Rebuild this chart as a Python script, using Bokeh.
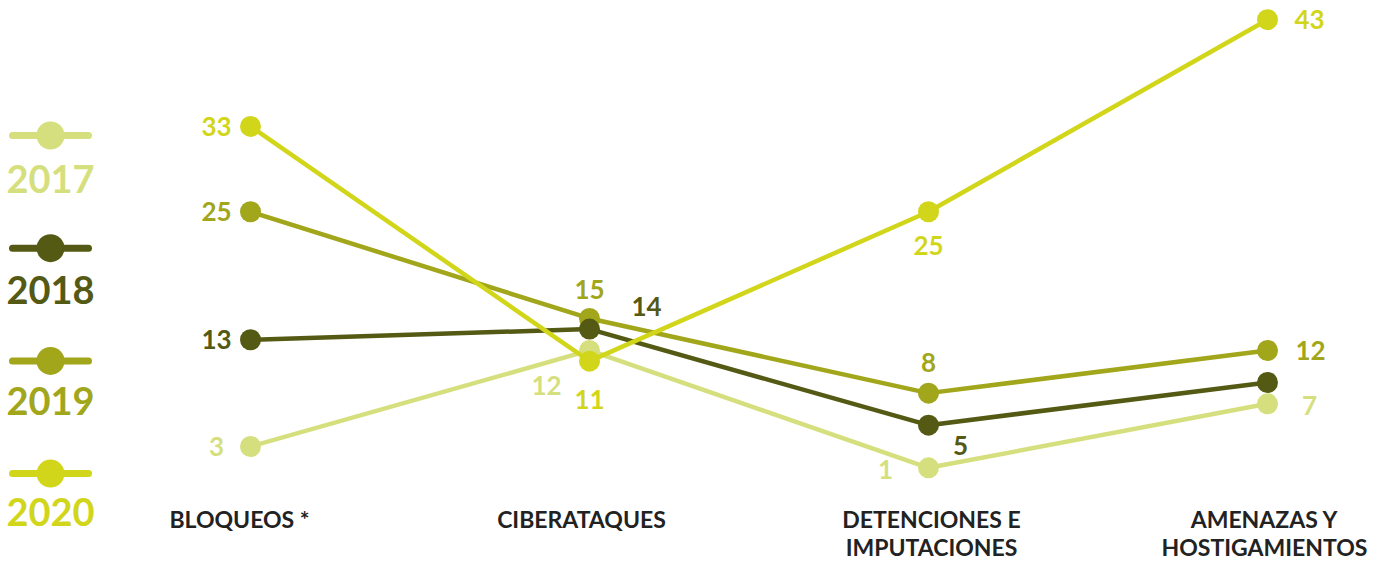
from bokeh.plotting import figure
from bokeh.models import Range1d, ColumnDataSource
from bokeh.core.properties import value
from bokeh.embed import file_html
from bokeh.resources import INLINE

# ---------------- data ----------------
categories = ["BLOQUEOS *", "CIBERATAQUES", "DETENCIONES E\nIMPUTACIONES", "AMENAZAS Y\nHOSTIGAMIENTOS"]
years = ["2017", "2018", "2019", "2020"]
v2017 = [3, 12, 1, 7]
v2018 = [13, 14, 5, 9]
v2019 = [25, 15, 8, 12]
v2020 = [33, 11, 25, 43]
show2018 = [True, True, True, False]

# ---------------- styles ----------------
colors = {"2017": "#d6df7e", "2018": "#545914", "2019": "#a1a61a", "2020": "#d2d61b"}
FONT = value("Lato")
W, H = 1386, 563

# label offsets (screen px) per series/category
offsets = {
    "2017": [(-34, 0), (-43, 35), (-43, 2), (42, 2)],
    "2018": [(-34, 0), (57, -23), (32, 20), (0, 0)],
    "2019": [(-34, 0), (0, -29), (0, -31), (43, 0)],
    "2020": [(-34, 0), (0, 38), (0, 34), (42, 0)],
}
cat_dx = [-11, -8, 3, -3]

# pixel mapping helpers
X0_PX, DX_PX = 250, 339
Y0_PX, DY_PX = 478, 10.67
x_start = -X0_PX / DX_PX
x_end = x_start + W / DX_PX
y_end = Y0_PX / DY_PX
y_start = y_end - H / DY_PX


def px_x(px):
    return x_start + px / DX_PX


def px_y(py):
    return y_end - py / DY_PX


p = figure(width=W, height=H, output_backend="svg", toolbar_location=None,
           x_axis_type=None, y_axis_type=None, min_border=0,
           x_range=Range1d(x_start, x_end), y_range=Range1d(y_start, y_end))
p.outline_line_color = None
p.grid.visible = False
p.background_fill_color = "white"
p.border_fill_color = "white"

xs = list(range(len(categories)))
series = {"2017": v2017, "2018": v2018, "2019": v2019, "2020": v2020}

for yr in ["2017", "2019", "2018", "2020"]:
    vals = series[yr]
    c = colors[yr]
    p.line(xs, vals, line_color=c, line_width=4.5, line_join="round")
    p.scatter(xs, vals, size=21, fill_color=c, line_color=None)

for yr in years:
    vals = series[yr]
    show = show2018 if yr == "2018" else [True] * len(vals)
    lx, ly, lt, ox, oy = [], [], [], [], []
    for i, v in enumerate(vals):
        if not show[i]:
            continue
        lx.append(xs[i]); ly.append(v); lt.append(str(v))
        ox.append(offsets[yr][i][0]); oy.append(offsets[yr][i][1])
    src = ColumnDataSource(dict(x=lx, y=ly, t=lt, ox=ox, oy=oy))
    p.text(x="x", y="y", text="t", x_offset="ox", y_offset="oy", source=src,
           text_font=FONT, text_font_style="bold", text_font_size="26px",
           text_color=colors[yr], text_align="center", text_baseline="middle")

# category labels
cat_src = ColumnDataSource(dict(x=xs, y=[px_y(504)] * len(xs), t=categories, dx=cat_dx))
p.text(x="x", y="y", text="t", source=cat_src, text_font=FONT, text_font_style="bold",
       text_font_size="23px", text_color="#222222", text_align="center",
       text_baseline="top", text_line_height=1.02, x_offset="dx")

# legend
for i, yr in enumerate(years):
    c = colors[yr]
    ly = px_y(135 + i * 112.7)
    p.segment(x0=[px_x(12)], y0=[ly], x1=[px_x(88)], y1=[ly], line_color=c,
              line_width=7, line_cap="round")
    p.scatter([px_x(50)], [ly], size=28, fill_color=c, line_color=None)
    p.text(x=[px_x(50)], y=[px_y(178 + i * 111)], text=[yr], text_font=FONT,
           text_font_style="bold", text_font_size="38px", text_color=c,
           text_align="center", text_baseline="alphabetic")

open("out.html", "w").write(file_html(p, INLINE))
